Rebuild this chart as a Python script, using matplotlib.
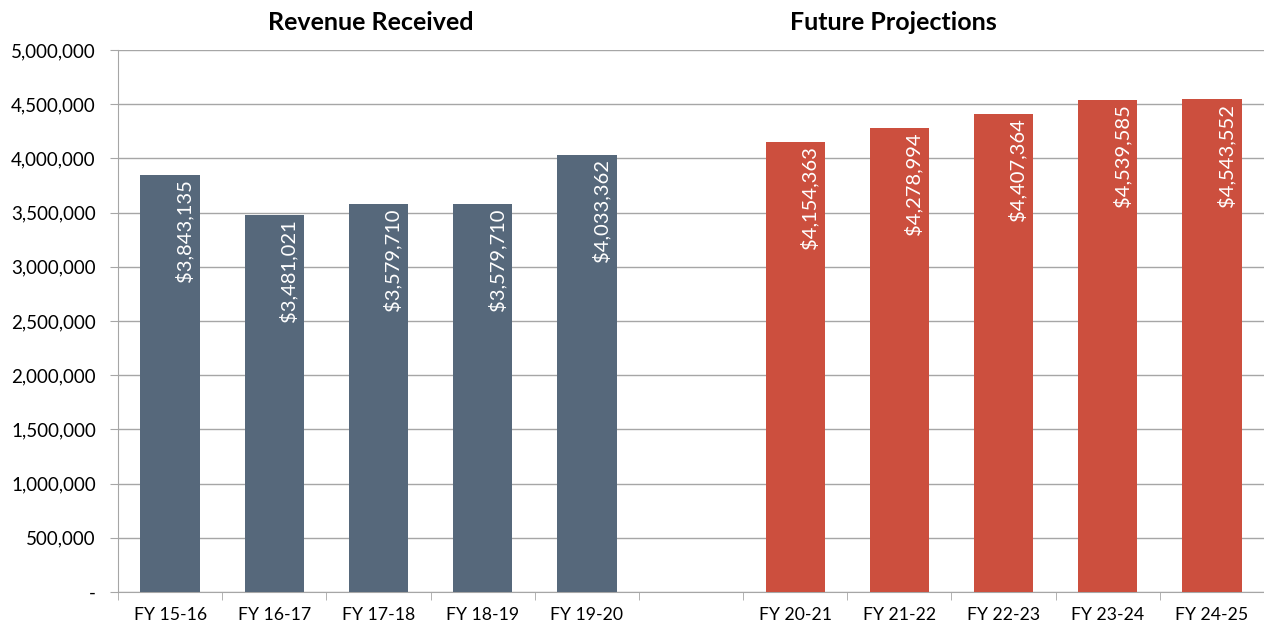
import numpy as np
import matplotlib.pyplot as plt
from matplotlib.ticker import FuncFormatter, MultipleLocator

plt.rcParams['font.family'] = ['Lato', 'DejaVu Sans']

# Revenue received vs. projected, one blank slot between the two groups
received_labels = ['FY 15-16', 'FY 16-17', 'FY 17-18', 'FY 18-19', 'FY 19-20']
received_values = [3843135, 3481021, 3579710, 3579710, 4033362]
projected_labels = ['FY 20-21', 'FY 21-22', 'FY 22-23', 'FY 23-24', 'FY 24-25']
projected_values = [4154363, 4278994, 4407364, 4539585, 4543552]

BLUE = '#56687b'
RED = '#cc4f3e'
GRID = '#a6a6a6'

fig = plt.figure(figsize=(12.64, 6.3), dpi=100)
ax = fig.add_axes([0.0934, 0.0603, 0.9066, 0.8603])

x_recv = np.arange(len(received_values))
x_proj = np.arange(len(projected_values)) + len(received_values) + 1

bars1 = ax.bar(x_recv, received_values, width=0.57, color=BLUE, zorder=3)
bars2 = ax.bar(x_proj, projected_values, width=0.57, color=RED, zorder=3)

def money(v):
    return '${:,.0f}'.format(v)

# value labels inside the top of each bar, reading upwards
for bars, vals in [(bars1, received_values), (bars2, projected_values)]:
    for b, v in zip(bars, vals):
        ax.annotate(money(v), (b.get_x() + b.get_width() / 2, v),
                    xytext=(10, -3), textcoords='offset points',
                    rotation=90, ha='center', va='top',
                    color='white', fontsize=14.5, zorder=4)

ax.set_xlim(-0.5, 10.5)
ax.set_ylim(0, 5000000)
ax.yaxis.set_major_locator(MultipleLocator(500000))
ax.yaxis.set_major_formatter(FuncFormatter(lambda v, p: '-' if v == 0 else '{:,.0f}'.format(v)))
ax.grid(axis='y', color=GRID, linewidth=1, zorder=0)

ax.set_xticks(list(x_recv) + list(x_proj))
ax.set_xticklabels(received_labels + projected_labels)
ax.set_xticks(np.arange(-0.5, 10.6, 1), minor=True)
ax.tick_params(axis='x', which='major', length=0, labelsize=12.7, pad=11)
ax.tick_params(axis='x', which='minor', length=6, color=GRID, direction='out')
ax.tick_params(axis='y', length=6, color=GRID, labelsize=13.5, pad=10)

for s in ['top', 'right']:
    ax.spines[s].set_visible(False)
ax.spines['left'].set_color(GRID)
ax.spines['bottom'].set_color(GRID)

fig.text(0.293, 0.965, 'Revenue Received', ha='center', va='center',
         fontsize=18, fontweight='bold')
fig.text(0.7065, 0.965, 'Future Projections', ha='center', va='center',
         fontsize=18, fontweight='bold')

fig.savefig('out.png', dpi=100)
